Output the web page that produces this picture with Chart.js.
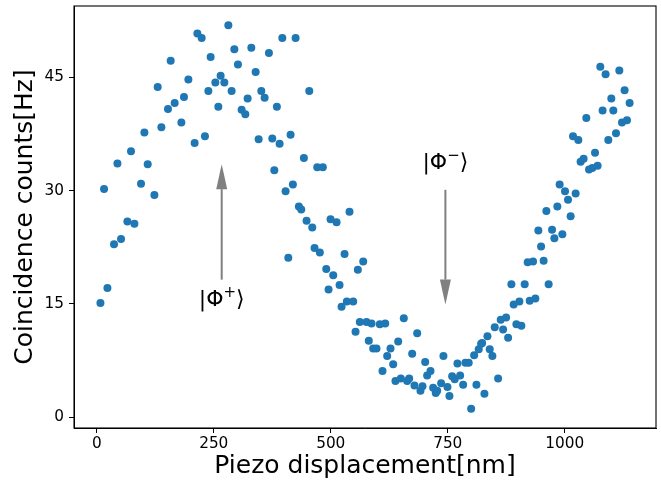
<!DOCTYPE html>
<html>
<head>
<meta charset="utf-8">
<script src="https://cdn.jsdelivr.net/npm/chart.js@4"></script>
<style>
  body { margin: 0; background: #fff; }
</style>
</head>
<body>
<canvas id="scatter-chart" width="661" height="482"></canvas>
<script>
// measured points, piezo displacement [nm]
var displacement = [
	7.9, 15.6, 22.8, 36.9, 44.2, 51.9, 65.5, 73.2, 80.5, 94.6,
	101.8, 108.9, 123.2, 130.2, 138.1, 152.2, 158.0, 166.5, 180.8, 186.4,
	195.8, 209.2, 215.0, 224.2, 231.2, 238.5, 243.4, 253.4, 259.8, 264.7,
	272.6, 281.2, 288.2, 294.0, 301.7, 309.6, 317.5, 322.4, 330.3, 339.5,
	345.9, 351.6, 358.7, 367.9, 375.1, 379.4, 384.9, 390.7, 396.5, 403.5,
	409.3, 414.2, 419.1, 424.9, 431.9, 437.0, 442.6, 448.3, 454.1, 460.5,
	465.4, 471.2, 476.7, 483.1, 490.4, 495.3, 499.6, 505.3, 512.4, 518.8,
	523.1, 529.5, 534.4, 540.1, 548.0, 553.0, 557.9, 562.1, 569.4, 576.4,
	581.3, 587.1, 590.7, 597.8, 604.8, 610.6, 616.4, 620.6, 627.7, 633.4,
	638.3, 644.1, 649.7, 656.1, 663.3, 667.6, 674.0, 678.9, 684.7, 691.7,
	696.0, 701.8, 706.0, 713.1, 718.8, 724.4, 727.4, 735.9, 740.8, 749.4,
	753.6, 759.4, 764.9, 770.7, 776.5, 782.9, 787.8, 794.8, 800.0, 806.4,
	811.3, 816.2, 821.3, 823.5, 828.4, 834.8, 839.7, 845.4, 850.4, 857.6,
	863.2, 868.3, 874.7, 879.0, 886.0, 890.9, 896.7, 903.1, 907.3, 914.4,
	920.8, 925.1, 932.3, 937.2, 943.6, 949.4, 954.9, 960.7, 965.6, 972.9,
	977.8, 984.2, 989.1, 994.9, 1000.6, 1007.0, 1012.6, 1017.7, 1023.3, 1029.0,
	1033.9, 1040.3, 1046.1, 1051.9, 1058.9, 1064.7, 1070.2, 1076.0, 1080.9, 1087.3,
	1093.1, 1099.5, 1103.8, 1109.5, 1116.6, 1122.3, 1127.9, 1133.0, 1138.6
];
// coincidence counts [Hz], same order
var counts = [
	15.1, 30.2, 17.1, 22.9, 33.6, 23.6, 25.9, 35.2, 25.6, 30.9,
	37.7, 33.5, 29.4, 43.7, 38.4, 40.8, 47.2, 41.6, 39.0, 42.4,
	44.7, 36.3, 50.8, 50.2, 37.2, 43.2, 47.7, 44.3, 41.1, 45.2,
	44.3, 51.9, 43.2, 48.7, 46.7, 40.7, 40.1, 42.2, 48.9, 45.7,
	36.8, 43.2, 42.3, 48.2, 36.9, 32.7, 41.1, 36.2, 50.2, 29.9,
	21.1, 37.4, 30.8, 50.2, 27.9, 27.5, 34.3, 26.0, 43.2, 25.1,
	22.4, 33.1, 21.8, 33.1, 19.6, 16.9, 26.2, 18.8, 25.8, 17.5,
	14.6, 21.6, 15.3, 27.2, 15.3, 11.3, 19.5, 12.6, 20.6, 12.6,
	10.1, 12.4, 9.1, 9.1, 12.3, 6.1, 12.4, 8.1, 9.1, 7.0,
	4.8, 10.0, 5.1, 13.1, 4.8, 5.1, 8.4, 4.2, 11.1, 3.5,
	4.1, 7.3, 5.5, 6.1, 3.9, 3.2, 3.5, 4.5, 8.1, 4.0,
	2.8, 5.4, 5.0, 7.1, 5.5, 4.3, 7.2, 7.2, 1.1, 8.2,
	4.3, 9.0, 9.7, 9.8, 3.1, 10.7, 9.0, 8.1, 11.9, 5.1,
	12.9, 11.6, 13.2, 10.5, 17.6, 14.9, 12.3, 15.3, 12.1, 17.6,
	20.5, 15.4, 20.6, 15.7, 24.7, 22.6, 20.7, 27.3, 17.6, 24.8,
	23.7, 27.9, 30.8, 24.2, 29.9, 28.8, 26.6, 37.2, 29.6, 36.7,
	33.8, 34.2, 39.6, 32.8, 33.0, 35.0, 33.3, 46.4, 40.6, 45.4,
	36.7, 42.2, 40.6, 37.6, 45.9, 39.0, 43.3, 39.3, 41.6
];

var xTicks = [0, 250, 500, 750, 1000];
var yTicks = [0, 15, 30, 45];

// arrows: [x, tail y, tip y], labels: [x, y, sign]
var arrowPlus = [267, 18.2, 33.5];
var arrowMinus = [745, 30.1, 14.9];
var labelPlus = [267, 15.8, "+"];
var labelMinus = [745, 33.9, "\u2212"];

var FONT = "'DejaVu Sans', sans-serif";

var points = [];
for (var i = 0; i < displacement.length; i++) {
	points.push({ x: displacement[i], y: counts[i] });
}

function drawArrow(ctx, x, y0, y1) {
	var dir = y1 < y0 ? 1 : -1; // 1 = pointing up on screen
	var headLen = 25;
	var headHalf = 5.5;
	ctx.save();
	ctx.strokeStyle = "#808080";
	ctx.fillStyle = "#808080";
	ctx.lineWidth = 2;
	ctx.beginPath();
	ctx.moveTo(x, y0);
	ctx.lineTo(x, y1 + dir * headLen);
	ctx.stroke();
	ctx.beginPath();
	ctx.moveTo(x, y1);
	ctx.lineTo(x - headHalf, y1 + dir * headLen);
	ctx.lineTo(x + headHalf, y1 + dir * headLen);
	ctx.closePath();
	ctx.fill();
	ctx.restore();
}

function drawKet(ctx, cx, cy, sign) {
	ctx.save();
	ctx.fillStyle = "#000";
	ctx.textBaseline = "alphabetic";
	var big = "22px " + FONT;
	var small = "15px " + FONT;
	ctx.font = big;
	var wBar = ctx.measureText("|").width;
	var wPhi = ctx.measureText("\u03A6").width;
	var wAng = ctx.measureText("\u27E9").width;
	ctx.font = small;
	var wSign = ctx.measureText(sign).width;
	var total = wBar + wPhi + wSign + wAng;
	var x = cx - total / 2;
	var base = cy + 8;
	ctx.font = big;
	ctx.fillText("|", x, base);
	x += wBar;
	ctx.fillText("\u03A6", x, base);
	x += wPhi;
	ctx.font = small;
	ctx.fillText(sign, x, base - 9);
	x += wSign;
	ctx.font = big;
	ctx.fillText("\u27E9", x, base);
	ctx.restore();
}

var annotationPlugin = {
	id: "annotations",
	afterDatasetsDraw: function(chart) {
		var ctx = chart.ctx;
		var sx = chart.scales.x;
		var sy = chart.scales.y;
		drawArrow(ctx, sx.getPixelForValue(arrowPlus[0]), sy.getPixelForValue(arrowPlus[1]), sy.getPixelForValue(arrowPlus[2]));
		drawArrow(ctx, sx.getPixelForValue(arrowMinus[0]), sy.getPixelForValue(arrowMinus[1]), sy.getPixelForValue(arrowMinus[2]));
		drawKet(ctx, sx.getPixelForValue(labelPlus[0]), sy.getPixelForValue(labelPlus[1]), labelPlus[2]);
		drawKet(ctx, sx.getPixelForValue(labelMinus[0]), sy.getPixelForValue(labelMinus[1]), labelMinus[2]);
		// frame round the plot area
		var a = chart.chartArea;
		ctx.save();
		ctx.strokeStyle = "#000";
		ctx.lineWidth = 1.1;
		ctx.strokeRect(a.left, a.top, a.right - a.left, a.bottom - a.top);
		ctx.restore();
	}
};

var ctx = document.getElementById("scatter-chart").getContext("2d");
var myChart = new Chart(ctx, {
	type: "scatter",
	data: {
		datasets: [
			{
				data: points,
				backgroundColor: "#1f77b4",
				borderWidth: 0,
				pointRadius: 4,
			},
		],
	},
	options: {
		responsive: false,
		animation: false,
		layout: { padding: { top: 6, right: 5, left: 0, bottom: 0 } },
		plugins: {
			legend: { display: false },
			tooltip: { enabled: false },
		},
		scales: {
			x: {
				type: "linear",
				min: -48.6,
				max: 1195,
				afterBuildTicks: function(scale) {
					scale.ticks = xTicks.map(function(v) { return { value: v }; });
				},
				afterFit: function(scale) {
					scale.height = 54;
				},
				grid: { drawOnChartArea: false, drawTicks: true, tickLength: 5, tickColor: "#000" },
				border: { display: true, color: "#000" },
				ticks: {
					color: "#000",
					padding: 2,
					maxRotation: 0,
					font: { family: FONT, size: 15.3 },
					callback: function(value) { return String(value); },
				},
				title: {
					display: true,
					text: "Piezo displacement[nm]",
					color: "#000",
					font: { family: FONT, size: 25 },
					padding: { top: 0, bottom: 1 },
				},
			},
			y: {
				type: "linear",
				min: -1.44,
				max: 54.44,
				afterBuildTicks: function(scale) {
					scale.ticks = yTicks.map(function(v) { return { value: v }; });
				},
				afterFit: function(scale) {
					scale.width = 74;
					// tick labels sit well inside the range, no extra room needed
					scale.paddingTop = 0;
					scale.paddingBottom = 0;
				},
				grid: { drawOnChartArea: false, drawTicks: true, tickLength: 5, tickColor: "#000" },
				border: { display: true, color: "#000" },
				ticks: {
					color: "#000",
					padding: 5,
					font: { family: FONT, size: 15.3 },
					callback: function(value) { return String(value); },
				},
				title: {
					display: true,
					text: "Coincidence counts[Hz]",
					color: "#000",
					font: { family: FONT, size: 25 },
					padding: { top: 10, bottom: 0 },
				},
			},
		},
	},
	plugins: [annotationPlugin],
});
</script>
</body>
</html>
